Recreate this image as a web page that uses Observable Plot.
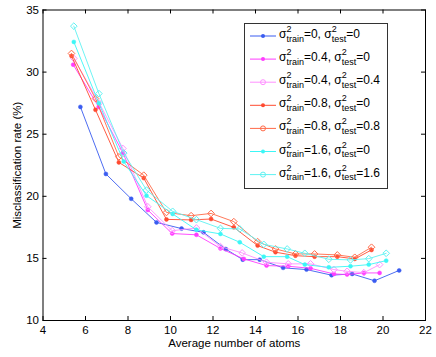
<!DOCTYPE html>
<html><head><meta charset="utf-8">
<script src="https://cdn.jsdelivr.net/npm/d3@7"></script>
<script src="https://cdn.jsdelivr.net/npm/@observablehq/plot@0.6"></script>
<style>
body{margin:0;background:#fff;}
svg{font-family:"Liberation Sans",Arial,Helvetica,sans-serif;}
</style>
</head><body><div id="chart"></div>
<script>
const xTicks = [4, 6, 8, 10, 12, 14, 16, 18, 20, 22];
const yTicks = [10, 15, 20, 25, 30, 35];
const trainVar = ["0", "0.4", "0.4", "0.8", "0.8", "1.6", "1.6"];
const testVar  = ["0", "0", "0.4", "0", "0.8", "0", "1.6"];
const seriesColors = ["#3a5cf0", "#ff3cff", "#ff90ff", "#ff4a30", "#ff6a48", "#3cf6f6", "#5ef2f2"];
const seriesFilled = [true, true, false, true, false, true, false];

// series 1: train 0, test 0
const x1 = [5.76, 6.96, 8.15, 9.34, 10.52, 11.55, 12.6, 13.4, 14.2, 15.3, 16.4, 17.58, 18.55, 19.6, 20.76];
const y1 = [27.2, 21.8, 19.8, 17.9, 17.4, 17.1, 15.75, 14.9, 14.9, 14.24, 14.1, 13.65, 13.75, 13.2, 14.03];
// series 2: train 0.4, test 0
const x2 = [5.42, 6.62, 7.76, 8.93, 10.08, 11.22, 12.35, 13.45, 14.52, 15.54, 16.59, 17.69, 18.31, 19.1, 19.84];
const y2 = [30.6, 27.2, 23.5, 18.9, 17.0, 16.9, 15.8, 14.96, 14.42, 14.37, 14.2, 13.75, 13.7, 13.83, 13.83];
// series 3: train 0.4, test 0.4
const x3 = [5.45, 6.65, 7.76, 8.93, 10.08, 11.22, 12.35, 13.37, 14.52, 15.54, 16.59, 17.69, 18.31, 19.1, 19.84];
const y3 = [31.1, 27.5, 23.85, 19.16, 17.23, 17.45, 15.95, 15.44, 14.69, 14.56, 14.56, 14.1, 13.96, 13.85, 14.5];
// series 4: train 0.8, test 0
const x4 = [5.34, 6.47, 7.57, 8.74, 9.81, 10.97, 11.91, 12.98, 14.1, 14.94, 15.88, 16.78, 17.85, 18.67, 19.46];
const y4 = [31.3, 26.96, 22.73, 21.47, 18.14, 18.1, 18.17, 17.5, 16.03, 15.5, 15.22, 15.14, 15.14, 14.96, 15.68];
// series 5: train 0.8, test 0.8
const x5 = [5.34, 6.47, 7.57, 8.74, 9.81, 10.97, 11.91, 12.98, 14.1, 14.94, 15.88, 16.78, 17.85, 18.67, 19.46];
const y5 = [31.5, 27.87, 23.18, 21.7, 18.7, 18.44, 18.62, 17.96, 16.35, 15.76, 15.36, 15.36, 15.28, 15.09, 15.9];
// series 6: train 1.6, test 0
const x6 = [5.45, 6.63, 7.8, 8.87, 10.1, 11.22, 12.35, 13.26, 14.39, 15.49, 16.32, 17.45, 18.47, 19.33, 20.15];
const y6 = [32.43, 27.5, 22.8, 20.05, 18.58, 17.3, 16.97, 16.3, 15.14, 15.14, 14.5, 14.28, 14.37, 14.5, 14.82];
// series 7: train 1.6, test 1.6
const x7 = [5.45, 6.63, 7.8, 8.87, 10.1, 11.22, 12.35, 13.26, 14.39, 15.49, 16.32, 17.45, 18.47, 19.33, 20.15];
const y7 = [33.7, 28.27, 23.48, 20.5, 18.79, 18.12, 17.42, 17.37, 16.13, 15.76, 15.41, 14.93, 14.88, 14.98, 15.41];

const xs = [x1, x2, x3, x4, x5, x6, x7];
const ys = [y1, y2, y3, y4, y5, y6, y7];
const data = [];
xs.forEach((xa, s) => xa.forEach((x, i) => data.push({s, x, y: ys[s][i]})));

const seriesMarks = [];
for (let s = 0; s < 7; s++) {
  const d = data.filter(r => r.s === s);
  seriesMarks.push(Plot.line(d, {x: "x", y: "y", stroke: seriesColors[s], strokeWidth: 1, strokeOpacity: 0.9}));
  if (seriesFilled[s]) {
    seriesMarks.push(Plot.dot(d, {x: "x", y: "y", r: 2, fill: seriesColors[s], stroke: seriesColors[s], strokeWidth: 0.5}));
  } else {
    seriesMarks.push(Plot.dot(d, {x: "x", y: "y", r: 3, symbol: "diamond2", fill: "none", stroke: seriesColors[s], strokeWidth: 1}));
  }
}

const tx = 4 / 21.25, ty = 4 / 12.44;
const svg = Plot.plot({
  width: 436, height: 357,
  marginLeft: 42.5, marginRight: 11, marginTop: 9.5, marginBottom: 37,
  style: {fontSize: "11.5px", fontFamily: "Liberation Sans, Arial, sans-serif", color: "#000", background: "#fff"},
  x: {domain: [4, 22]},
  y: {domain: [10, 35]},
  marks: [
    ...seriesMarks,
    Plot.ruleX(xTicks, {y1: 10, y2: 10 + ty, stroke: "#000"}),
    Plot.ruleX(xTicks, {y1: 35 - ty, y2: 35, stroke: "#000"}),
    Plot.ruleY(yTicks, {x1: 4, x2: 4 + tx, stroke: "#000"}),
    Plot.ruleY(yTicks, {x1: 22 - tx, x2: 22, stroke: "#000"}),
    Plot.frame({stroke: "#000", strokeWidth: 1}),
    Plot.axisX(xTicks, {tickSize: 0, tickPadding: 5, label: "Average number of atoms", labelAnchor: "center", labelArrow: "none", labelOffset: 26, fontSize: 11.5}),
    Plot.axisY(yTicks, {tickSize: 0, tickPadding: 4, label: "Misclassification rate (%)", labelAnchor: "center", labelArrow: "none", labelOffset: 30, fontSize: 11.5})
  ]
});
document.getElementById("chart").appendChild(svg);

// legend
const g = d3.select(svg).append("g").attr("text-anchor", "start");
g.append("rect").attr("x", 244.5).attr("y", 23.5).attr("width", 143).attr("height", 165)
  .attr("fill", "#fff").attr("stroke", "#333").attr("stroke-width", 1);
for (let i = 0; i < 7; i++) {
  const y = 36 + i * 23.1;
  g.append("line").attr("x1", 250).attr("x2", 276).attr("y1", y).attr("y2", y)
    .attr("stroke", seriesColors[i]).attr("stroke-width", 1);
  if (seriesFilled[i]) {
    g.append("circle").attr("cx", 263).attr("cy", y).attr("r", 2).attr("fill", seriesColors[i]);
  } else {
    g.append("circle").attr("cx", 263).attr("cy", y).attr("r", 2.5).attr("fill", "none").attr("stroke", seriesColors[i]);
  }
  const t = g.append("text").attr("x", 279).attr("y", y + 2).attr("font-size", 12)
    .attr("fill", "#000").attr("text-anchor", "start");
  t.append("tspan").text("σ");
  t.append("tspan").attr("font-size", 9).attr("dy", -6).text("2");
  t.append("tspan").attr("font-size", 9).attr("dx", -5).attr("dy", 9.5).text("train");
  t.append("tspan").attr("dy", -3.5).text("=" + trainVar[i] + ", σ");
  t.append("tspan").attr("font-size", 9).attr("dy", -6).text("2");
  t.append("tspan").attr("font-size", 9).attr("dx", -5).attr("dy", 9.5).text("test");
  t.append("tspan").attr("dy", -3.5).text("=" + testVar[i]);
}
</script>
</body></html>
